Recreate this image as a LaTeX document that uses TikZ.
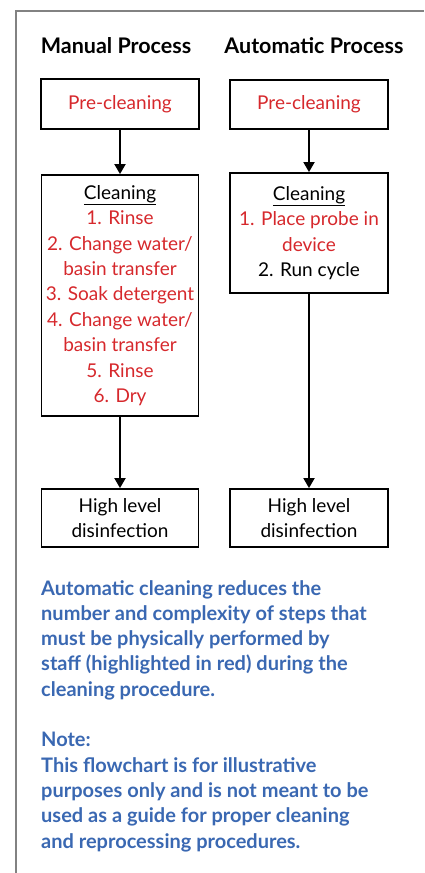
\documentclass[tikz,border=0pt]{standalone}
\usepackage{fontspec}
\setmainfont{Lato}
\usetikzlibrary{arrows.meta}
\definecolor{myred}{RGB}{214,40,44}
\definecolor{myblue}{RGB}{58,104,178}
\definecolor{framegray}{RGB}{130,130,130}
\tikzset{
  box/.style={draw=black, line width=1.8pt, inner sep=0pt, align=center,
    font=\fontsize{19}{25.4}\selectfont},
  flow/.style={line width=1.8pt, -{Triangle[width=11pt,length=10pt]}},
  title/.style={font=\fontsize{21.5}{25}\selectfont\bfseries, inner sep=0pt},
  note/.style={font=\fontsize{20}{25.3}\selectfont\bfseries, text=myblue, align=left, inner sep=0pt, anchor=north west},
}
\begin{document}
\begin{tikzpicture}[x=1pt,y=-1pt]
\useasboundingbox (0,0) rectangle (424,873);
\draw[framegray, line width=1.5pt] (16,873) -- (16,11) -- (424,11);

\node[title] (t1) at (116,46) {Manual Process};
\node[title] (t2) at (314,46) {Automatic Process};

\node[box, minimum width=158pt, minimum height=50pt, text=myred] (mpre) at (120,104) {Pre-cleaning};
\node[box, minimum width=158pt, minimum height=49pt, text=myred] (apre) at (309,104.5) {Pre-cleaning};

\node[box, minimum width=157pt, minimum height=241pt] (mcl) at (120,295.5)
 {\underline{Cleaning}\\ \textcolor{myred}{1. Rinse}\\ \textcolor{myred}{2. Change water/}\\ \textcolor{myred}{basin transfer}\\ \textcolor{myred}{3. Soak detergent}\\ \textcolor{myred}{4. Change water/}\\ \textcolor{myred}{basin transfer}\\ \textcolor{myred}{5. Rinse}\\ \textcolor{myred}{6. Dry}};
\node[box, minimum width=158pt, minimum height=120pt] (acl) at (309,233)
 {\underline{Cleaning}\\ \textcolor{myred}{1. Place probe in}\\ \textcolor{myred}{device}\\ 2. Run cycle};

\node[box, minimum width=157pt, minimum height=58pt] (mhl) at (120,518) {High level\\ disinfection};
\node[box, minimum width=158pt, minimum height=58pt] (ahl) at (309,518) {High level\\ disinfection};

\draw[flow] (mpre) -- (mcl);
\draw[flow] (apre) -- (acl);
\draw[flow] (mcl) -- (mhl);
\draw[flow] (acl) -- (ahl);

\node[note] (n1) at (41,580) {Automatic cleaning reduces the\\ number and complexity of steps that\\ must be physically performed by\\ staff (highlighted in red) during the\\ cleaning procedure.\\[25.3pt] Note:\\ This flowchart is for illustrative\\ purposes only and is not meant to be\\ used as a guide for proper cleaning\\ and reprocessing procedures.};
\end{tikzpicture}
\end{document}
